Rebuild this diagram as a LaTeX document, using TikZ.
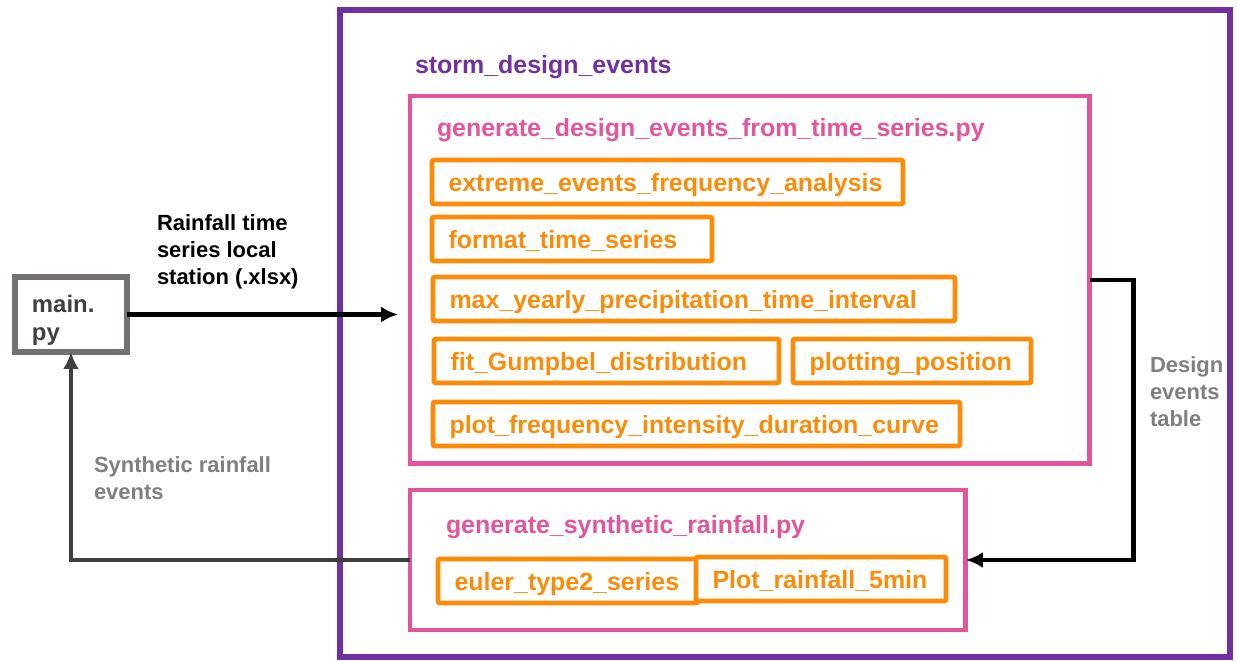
\documentclass[tikz,border=0pt]{standalone}
\usepackage{fontspec}
\setmainfont{Liberation Sans}
\usetikzlibrary{arrows.meta,calc}
\definecolor{modpurple}{HTML}{7030A0}
\definecolor{scriptpink}{HTML}{E0559B}
\definecolor{funcorange}{HTML}{FA8C0A}
\definecolor{mainframe}{HTML}{767171}
\definecolor{labelgray}{HTML}{7F7F7F}
\definecolor{darkgrey}{HTML}{404040}
\newcommand{\sinkline}[1]{\raisebox{-3.4pt}[\height][\depth]{#1}}
\tikzset{
	every node/.style={
		font=\bfseries\fontsize{14.2}{17}\selectfont,
		inner sep=0pt,
		outer sep=0pt
	},
	module/.style={
		shape=rectangle,
		draw=modpurple,
		line width=3.4pt,
		anchor=north west
	},
	script/.style={
		shape=rectangle,
		draw=scriptpink,
		line width=2.8pt,
		anchor=north west
	},
	func/.style={
		shape=rectangle,
		draw=funcorange,
		line width=2.8pt,
		rounded corners=1.2pt,
		fill=white,
		text=funcorange,
		minimum height=0.88cm,
		inner xsep=0.33cm,
		text depth=0pt,
		align=left,
		anchor=north west
	},
	annot/.style={
		font=\bfseries\fontsize{12.5}{15.2}\selectfont,
		align=left,
		anchor=north west
	},
	flow/.style={-{Latex[length=0.34cm,width=0.32cm]}, line width=2.8pt}
}

\begin{document}
\begin{tikzpicture}[x=0.02cm,y=-0.02cm]
	\useasboundingbox (0,0) rectangle (1237,662);
	
	% package and scripts
	\node[module, minimum width=17.8cm, minimum height=12.94cm] (sde) at (340,10) {};
	\node[anchor=west, text=modpurple] (sdelabel) at (415,67) {storm\_design\_events};
	
	\node[script, minimum width=13.6cm, minimum height=7.36cm] (gen1) at (410,96) {};
	\node[anchor=west, text=scriptpink] (gen1label) at (437,130) {generate\_design\_events\_from\_time\_series.py};
	
	\node[script, minimum width=11.12cm, minimum height=2.8cm] (gen2) at (410,490) {};
	\node[anchor=west, text=scriptpink] (gen2label) at (446,527) {generate\_synthetic\_rainfall.py};
	
	% functions
	\foreach \name/\x/\y/\w/\txt [evaluate=\w as \tw using (\w-33)*0.02, evaluate=\w as \bw using \w*0.02] in {
		ext/432/160/471/extreme\_events\_frequency\_analysis,
		fmt/432/217/280/format\_time\_series,
		maxy/433/277/522/max\_yearly\_precipitation\_time\_interval,
		fit/434/339/345/fit\_Gumpbel\_distribution,
		plotpos/793/339/238/plotting\_position,
		plotidf/433/402/527/plot\_frequency\_intensity\_duration\_curve,
		euler/438/559/260/euler\_type2\_series,
		plotrain/696/557/250/Plot\_rainfall\_5min}
	\node[func, minimum width=\bw cm, text width=\tw cm] (\name) at (\x,\y) {\txt};
	
	% main script
	\node[draw=mainframe, line width=3.4pt, anchor=north west, minimum width=2.24cm, minimum height=1.5cm,
		inner xsep=0.34cm, text width=1.56cm, align=left, text=darkgrey,
		font=\bfseries\fontsize{13.6}{15.9}\selectfont] (main) at (15,277) {\sinkline{main.}\\\sinkline{py}};
	
	% labels
	\node[annot] (rain) at (157,215) {Rainfall time\\series local\\station (.xlsx)};
	\node[annot, text=labelgray] (synth) at (94,457) {Synthetic rainfall\\events};
	\node[annot, text=labelgray] (table) at (1150,357) {Design\\events\\table};
	
	% connectors
	\draw[flow, shorten >=0.24cm] (main.east) -- (main.east -| gen1.west);
	\draw[flow] (gen1.east) -- ++(44,0) |- (gen2.east);
	\draw[flow, color=darkgrey] (gen2.west) -| (main.south);
\end{tikzpicture}
\end{document}
